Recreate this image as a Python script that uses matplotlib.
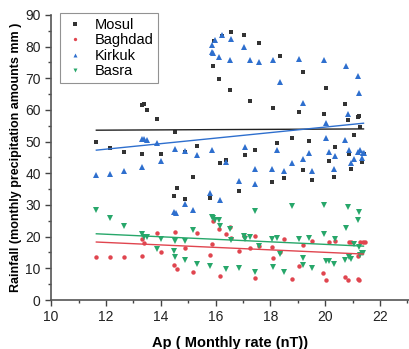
import matplotlib
matplotlib.use("Agg")
import matplotlib.pyplot as plt
from matplotlib.ticker import MultipleLocator

plt.rcParams['font.family'] = ['Liberation Sans', 'DejaVu Sans']

mosul_x = [11.65, 12.15, 12.66, 13.33, 13.33, 13.4, 13.49, 13.88, 14.02, 14.53, 14.49, 14.6, 14.9, 14.9,
           15.17, 15.34, 15.8, 15.92, 15.96, 16.14, 16.18, 16.22, 16.37, 16.53, 16.57, 16.86, 17.04, 17.08,
           17.27, 17.45, 17.6, 18.07, 18.1, 18.26, 18.35, 18.51, 18.79, 19.03, 19.18, 19.18, 19.4, 19.51,
           19.97, 20.03, 20.15, 20.35, 20.32, 20.72, 20.82, 20.86, 20.95, 21.05, 21.19, 21.23, 21.27, 21.36, 21.42]
mosul_y = [49.8, 48.1, 46.7, 46.0, 61.5, 61.9, 60.0, 57.2, 46.1, 53.1, 32.8, 35.2, 46.6, 31.9,
           38.9, 48.7, 32.1, 74.0, 81.6, 69.9, 43.1, 83.4, 44.1, 66.2, 84.5, 34.3, 83.5, 45.8,
           62.8, 47.4, 81.2, 37.4, 60.7, 49.4, 77.1, 38.6, 51.2, 59.4, 40.9, 72.0, 50.1, 38.0,
           58.8, 66.8, 43.9, 48.3, 38.9, 61.9, 56.7, 46.1, 41.2, 52.2, 57.9, 58.2, 54.6, 43.5, 46.1]

kirkuk_x = [11.64, 12.15, 12.66, 13.33, 13.32, 13.4, 13.49, 13.88, 14.02, 14.49, 14.55, 14.53, 14.9, 14.9,
            15.17, 15.34, 15.8, 15.88, 15.87, 15.88, 15.92, 15.97, 16.14, 16.18, 16.22, 16.37, 16.53, 16.57,
            16.86, 17.04, 17.08, 17.25, 17.45, 17.45, 17.59, 18.07, 18.1, 18.26, 18.35, 18.51, 18.79, 19.03,
            19.18, 19.18, 19.4, 19.51, 19.97, 20.03, 20.03, 20.15, 20.35, 20.32, 20.72, 20.76, 20.82, 20.86,
            20.95, 21.05, 21.19, 21.23, 21.19, 21.27, 21.33, 21.37, 21.42]
kirkuk_y = [39.6, 39.9, 40.6, 42.0, 50.9, 50.7, 50.5, 49.4, 43.8, 27.9, 27.4, 47.7, 46.9, 30.4,
            28.3, 45.7, 33.7, 47.4, 80.6, 78.3, 77.9, 82.2, 76.8, 31.6, 83.6, 43.5, 75.8, 82.4,
            37.6, 79.7, 48.4, 75.6, 36.7, 41.5, 75.2, 41.5, 75.9, 47.4, 68.9, 40.8, 43.4, 76.2,
            44.4, 62.2, 46.3, 40.7, 75.7, 55.8, 51.2, 46.6, 45.3, 41.5, 50.4, 74.0, 58.6, 47.5,
            43.1, 44.4, 70.6, 65.4, 46.8, 47.4, 44.7, 46.5, 46.3]

baghdad_x = [11.64, 12.15, 12.66, 13.33, 13.33, 13.4, 13.88, 14.02, 14.49, 14.6, 14.53, 14.9, 15.17, 15.34,
             15.8, 15.88, 15.92, 16.14, 16.18, 16.37, 16.53, 16.57, 16.86, 17.04, 17.25, 17.45, 17.45, 17.59,
             18.07, 18.1, 18.35, 18.51, 18.79, 19.03, 19.18, 19.51, 19.93, 20.03, 20.15, 20.35, 20.72, 20.82,
             20.86, 20.95, 21.19, 21.23, 21.27, 21.37, 21.44, 21.19]
baghdad_y = [13.7, 13.7, 13.7, 14.0, 19.2, 18.1, 21.1, 15.1, 10.9, 9.9, 21.4, 16.3, 8.7, 21.3,
             14.1, 17.7, 24.9, 22.5, 7.7, 20.9, 23.1, 19.5, 15.6, 20.3, 16.3, 20.3, 7.1, 17.2,
             16.7, 13.4, 15.3, 19.4, 6.6, 10.7, 17.4, 18.7, 8.6, 6.3, 18.2, 18.7, 7.4, 6.3,
             18.4, 18.2, 6.5, 6.2, 18.4, 18.2, 18.2, 14.0]

basra_x = [11.64, 12.15, 12.66, 13.33, 13.4, 13.49, 13.88, 14.02, 14.49, 14.53, 14.53, 14.9, 14.9, 15.17,
           15.34, 15.8, 15.88, 15.92, 15.97, 16.14, 16.18, 16.37, 16.53, 16.57, 16.86, 17.08, 17.04, 17.25,
           17.45, 17.45, 17.59, 18.07, 18.1, 18.26, 18.35, 18.51, 18.79, 19.03, 19.18, 19.18, 19.4, 19.51,
           19.97, 19.97, 20.03, 20.15, 20.32, 20.35, 20.72, 20.76, 20.82, 20.86, 20.95, 21.05, 21.19, 21.23,
           21.23, 21.27, 21.33, 21.37]
basra_y = [28.4, 25.9, 23.5, 20.7, 20.0, 19.8, 16.2, 19.3, 15.4, 13.6, 18.6, 18.7, 12.6, 22.2,
           11.4, 10.8, 26.2, 26.0, 25.3, 25.1, 23.2, 9.8, 22.3, 18.9, 10.1, 19.3, 20.1, 19.9,
           28.1, 8.9, 17.2, 19.4, 10.3, 19.7, 14.5, 8.9, 29.8, 19.4, 13.2, 11.2, 19.6, 10.0,
           30.1, 20.9, 12.4, 12.4, 11.3, 19.3, 12.6, 22.7, 29.5, 13.6, 12.9, 17.8, 25.2, 27.7,
           16.8, 14.2, 14.7, 14.7]

fit_x = [11.65, 21.4]
mosul_fit = [53.6, 54.0]
kirkuk_fit = [47.3, 55.8]
baghdad_fit = [18.3, 14.5]
basra_fit = [20.9, 17.0]

c_mosul = '#333333'
c_baghdad = '#e0454f'
c_kirkuk = '#2e6fce'
c_basra = '#27a76a'

fig = plt.figure(figsize=(4.09, 3.49), dpi=100)
ax = fig.add_axes([0.125, 0.1404, 0.875, 0.817])

ms = 3.2
ax.plot(mosul_x, mosul_y, 's', color=c_mosul, ms=ms, mew=0, label='Mosul')
ax.plot(baghdad_x, baghdad_y, 'o', color=c_baghdad, ms=ms, mew=0, label='Baghdad')
ax.plot(kirkuk_x, kirkuk_y, '^', color=c_kirkuk, ms=ms + 0.6, mew=0, label='Kirkuk')
ax.plot(basra_x, basra_y, 'v', color=c_basra, ms=ms + 0.6, mew=0, label='Basra')

ax.plot(fit_x, mosul_fit, '-', color='#222222', lw=1.0)
ax.plot(fit_x, kirkuk_fit, '-', color=c_kirkuk, lw=1.0)
ax.plot(fit_x, baghdad_fit, '-', color=c_baghdad, lw=1.0)
ax.plot(fit_x, basra_fit, '-', color=c_basra, lw=1.0)

ax.set_xlim(10, 23.06)
ax.set_ylim(0, 90)
ax.xaxis.set_major_locator(MultipleLocator(2))
ax.xaxis.set_minor_locator(MultipleLocator(1))
ax.yaxis.set_major_locator(MultipleLocator(10))
ax.yaxis.set_minor_locator(MultipleLocator(5))
ax.tick_params(which='both', direction='out', color='#444444', width=1.0, labelsize=10, labelcolor='#222222')
ax.tick_params(which='major', length=4)
ax.tick_params(which='minor', length=2.5)
for s in ['top', 'right']:
    ax.spines[s].set_visible(False)
for s in ['left', 'bottom']:
    ax.spines[s].set_color('#555555')
    ax.spines[s].set_linewidth(1.2)

ax.set_xlabel('Ap ( Monthly rate (nT))', fontsize=10.5, fontweight='bold', labelpad=8)
ax.set_ylabel('Rainfall (monthly precipitation amounts mm )', fontsize=9, fontweight='bold', labelpad=2)

leg = ax.legend(loc='upper left', bbox_to_anchor=(0.025, 1.005), borderaxespad=0, fontsize=10.5,
                frameon=True, fancybox=False, edgecolor='#777777', handletextpad=0.6, borderpad=0.3,
                labelspacing=0.1, handlelength=1.5, markerscale=0.75)
leg.get_frame().set_linewidth(0.8)

fig.savefig('out.png', dpi=100)
